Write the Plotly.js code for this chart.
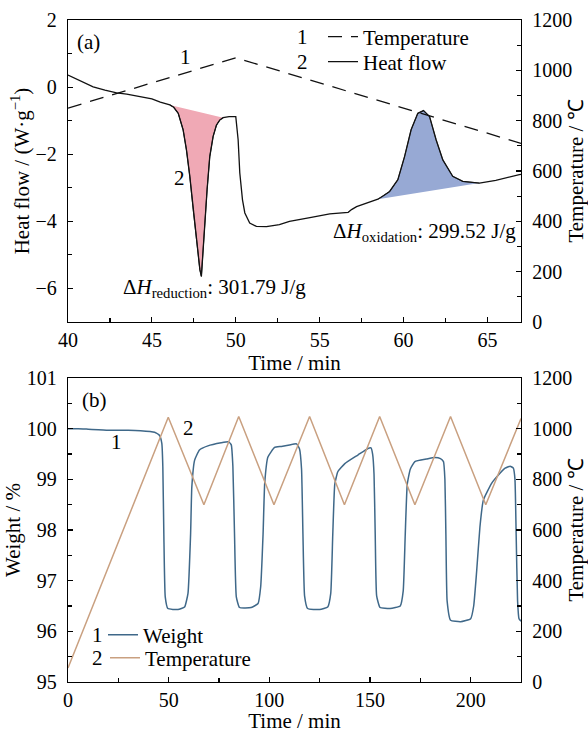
<!DOCTYPE html>
<html><head><meta charset="utf-8">
<script src="https://cdn.plot.ly/plotly-3.0.1.min.js"></script>
<style>html,body{margin:0;padding:0;background:#fff}#chart{width:588px;height:733px}</style>
</head><body><div id="chart"></div>
<script>
// (a) DSC: heat flow vs time
const heatTime = [40.0,40.6,41.5,42.2,42.9,43.5,44.3,45.0,45.5,46.07,46.3,46.57,46.86,47.06,47.26,47.46,47.66,47.86,47.95,48.02,48.15,48.29,48.45,48.65,48.85,49.05,49.25,49.6,50.0,50.14,50.24,50.4,50.54,50.83,51.23,51.83,52.6,53.2,54.5,55.6,56.7,56.9,57.2,57.8,58.47,58.8,59.17,59.66,60.06,60.45,60.85,61.19,61.55,61.94,62.34,62.93,63.53,64.52,65.5,66.9,67.0];
const heatFlow = [0.36,0.22,0.01,-0.09,-0.17,-0.21,-0.28,-0.35,-0.45,-0.53,-0.60,-0.78,-1.27,-1.87,-2.66,-3.65,-4.55,-5.44,-5.64,-5.04,-4.05,-3.06,-2.07,-1.47,-1.13,-0.98,-0.91,-0.88,-0.88,-1.57,-2.56,-3.36,-3.75,-4.05,-4.15,-4.16,-4.10,-4.00,-3.88,-3.78,-3.73,-3.65,-3.56,-3.45,-3.34,-3.24,-3.11,-2.76,-2.07,-1.27,-0.78,-0.70,-0.88,-1.57,-2.17,-2.66,-2.81,-2.86,-2.78,-2.61,-2.60];
const dscTempTime = [40, 50, 67];
const dscTemp = [850, 1050, 710];
const reductionRange = [46.07, 49.25];
const oxidationRange = [58.47, 64.52];
const reductionLabel = 'Δ<i>H</i><sub>reduction</sub>: 301.79 J/g';
const oxidationLabel = 'Δ<i>H</i><sub>oxidation</sub>: 299.52 J/g';

// (b) TGA: weight and temperature vs time
const tgaTime = [0,5,10,20,30,36,43,45.4,46.6,47.1,47.6,48.3,49.6,54.6,57.9,59.6,60.9,61.5,62.9,65.3,69.5,76.1,79.8,81.1,81.9,82.7,83.6,85.2,91.0,94.4,95.7,96.9,97.7,99.3,102.6,106,110,113.5,115,116,116.7,117.5,119,125,129,130.5,131.5,132.5,134,137.5,144,149,150.5,151.3,152,152.6,153.3,155,160,165,166.5,167.5,168.5,170,172.3,178,182.2,185,186.5,187.2,187.7,188.3,190,195,200,201.5,203,204.6,206.3,210.4,213,217.1,219.6,221.2,222,222.6,223.3,224,225];
const tgaWeight = [100.0,100.0,99.99,99.97,99.97,99.96,99.93,99.87,99.71,99.25,97.93,96.68,96.45,96.43,96.48,96.75,97.93,98.85,99.38,99.58,99.66,99.72,99.74,99.68,99.25,97.93,96.68,96.47,96.47,96.55,96.88,97.93,98.92,99.44,99.63,99.65,99.68,99.70,99.6,99.2,97.9,96.7,96.45,96.43,96.48,96.75,97.9,98.9,99.15,99.31,99.48,99.61,99.62,99.5,99.1,97.9,96.7,96.47,96.45,96.5,96.8,97.9,98.9,99.2,99.35,99.4,99.43,99.41,99.35,99.0,97.9,96.6,96.22,96.19,96.25,96.5,97.2,98.06,98.59,98.92,99.05,99.22,99.26,99.22,99.0,97.9,96.6,96.25,96.2];
const tgaTempTime = [0,49.8,67.5,84.8,102.3,120,137.3,154.8,172.3,190,207.5,225];
const tgaTemp = [55,1045,700,1048,700,1048,700,1048,700,1048,700,1040];

function segment(t, v, lo, hi) {
  const xs = [], ys = [];
  for (let i = 0; i < t.length; i++) {
    if (t[i] >= lo - 1e-9 && t[i] <= hi + 1e-9) { xs.push(t[i]); ys.push(v[i]); }
  }
  return {x: xs, y: ys};
}
const red = segment(heatTime, heatFlow, reductionRange[0], reductionRange[1]);
const blue = segment(heatTime, heatFlow, oxidationRange[0], oxidationRange[1]);

const FONT = 'Liberation Serif, Times New Roman, serif';
const traces = [
  {x: red.x, y: red.y, xaxis: 'x', yaxis: 'y', mode: 'lines', fill: 'toself', fillcolor: '#f0a9b5',
   line: {color: '#222', width: 1}, showlegend: false, hoverinfo: 'skip'},
  {x: blue.x, y: blue.y, xaxis: 'x', yaxis: 'y', mode: 'lines', fill: 'toself', fillcolor: '#97a9d4',
   line: {color: '#555', width: 1}, showlegend: false, hoverinfo: 'skip'},
  {x: heatTime, y: heatFlow, xaxis: 'x', yaxis: 'y', mode: 'lines', name: 'Heat flow',
   line: {color: '#111', width: 1.3}, legend: 'legend2'},
  {x: dscTempTime, y: dscTemp, xaxis: 'x', yaxis: 'y2', mode: 'lines', name: 'Temperature',
   line: {color: '#111', width: 1.3, dash: '14px,9px'}, legend: 'legend'},
  {x: tgaTime, y: tgaWeight, xaxis: 'x2', yaxis: 'y3', mode: 'lines', name: 'Weight',
   line: {color: '#3f6889', width: 1.5, shape: 'spline', smoothing: 0.4}, legend: 'legend3'},
  {x: tgaTempTime, y: tgaTemp, xaxis: 'x2', yaxis: 'y4', mode: 'lines', name: 'Temperature',
   line: {color: '#c9a080', width: 1.5}, legend: 'legend4'}
];

const common = {
  showline: true, linecolor: '#000', linewidth: 1.2, ticks: 'inside', ticklen: 5, tickwidth: 1.2,
  tickcolor: '#000', showgrid: false, zeroline: false, tickfont: {size: 20, color: '#000'},
  ticklabelstandoff: 6
};
function minor(d) { return {ticks: 'inside', ticklen: 4, tickwidth: 1.2, tickcolor: '#000', dtick: d, showgrid: false}; }
function ttl(t, s) { return {text: t, font: {size: 21, color: '#000'}, standoff: s}; }

function leg(px, py) {
  return {x: (px - 68) / 453, y: (682 - py) / 662, xanchor: 'left', yanchor: 'middle',
    bgcolor: 'rgba(0,0,0,0)', borderwidth: 0, font: {size: 21, color: '#000'}};
}
const L = (px) => (px - 68) / 453;
const Tp = (py) => (682 - py) / 662;
function num(t, px, py) {
  return {text: t, xref: 'paper', yref: 'paper', x: L(px), y: Tp(py), showarrow: false,
    xanchor: 'center', yanchor: 'middle', font: {size: 21, color: '#000'}};
}
function dataNote(t, xr, yr, x, y) {
  return {text: t, xref: xr, yref: yr, x: x, y: y, showarrow: false, xanchor: 'center', yanchor: 'middle',
    font: {size: 21, color: '#000'}};
}

const layout = {
  width: 588, height: 733, paper_bgcolor: '#fff', plot_bgcolor: '#fff',
  font: {family: FONT, size: 20, color: '#000'},
  margin: {l: 68, r: 67, t: 20, b: 51},
  xaxis: Object.assign({}, common, {domain: [0, 1], anchor: 'y', range: [40, 67], tick0: 40, dtick: 5,
    ticklabelstandoff: 0, minor: minor(2.5), mirror: true, title: ttl('Time / min', 1)}),
  yaxis: Object.assign({}, common, {domain: [0.5438, 1], anchor: 'x', range: [-7, 2], tick0: 0, dtick: 2,
    minor: minor(1), mirror: true, title: ttl('Heat flow / (W·g<sup>−1</sup>)', 0)}),
  yaxis2: Object.assign({}, common, {overlaying: 'y', side: 'right', anchor: 'x', range: [0, 1200], tick0: 0, dtick: 200,
    minor: minor(100), title: ttl('Temperature / ℃', 4)}),
  xaxis2: Object.assign({}, common, {domain: [0, 1], anchor: 'y3', range: [0, 225], tick0: 0, dtick: 50,
    ticklabelstandoff: 0, minor: minor(25), mirror: true, title: ttl('Time / min', 2)}),
  yaxis3: Object.assign({}, common, {domain: [0, 0.4592], anchor: 'x2', range: [95, 101], tick0: 95, dtick: 1,
    minor: minor(0.5), mirror: true, title: ttl('Weight / %', 0)}),
  yaxis4: Object.assign({}, common, {overlaying: 'y3', side: 'right', anchor: 'x2', range: [0, 1200], tick0: 0, dtick: 200,
    minor: minor(100), title: ttl('Temperature / ℃', 4)}),
  legend: leg(323, 37),
  legend2: leg(323, 62),
  legend3: leg(103, 635),
  legend4: leg(105, 658),
  annotations: [
    num('1', 302, 37), num('2', 302, 62), num('1', 97, 635), num('2', 97, 658),
    dataNote('(a)', 'x', 'y', 41.25, 1.35),
    dataNote('1', 'x', 'y', 47.02, 0.90),
    dataNote('2', 'x', 'y', 46.67, -2.70),
    dataNote(reductionLabel, 'x', 'y', 48.75, -5.98),
    dataNote(oxidationLabel, 'x', 'y', 61.25, -4.31),
    dataNote('(b)', 'x2', 'y3', 13.4, 100.57),
    dataNote('1', 'x2', 'y3', 23.9, 99.74),
    dataNote('2', 'x2', 'y3', 59.7, 100.01)
  ]
};
Plotly.newPlot('chart', traces, layout, {displayModeBar: false, staticPlot: true});
</script></body></html>
